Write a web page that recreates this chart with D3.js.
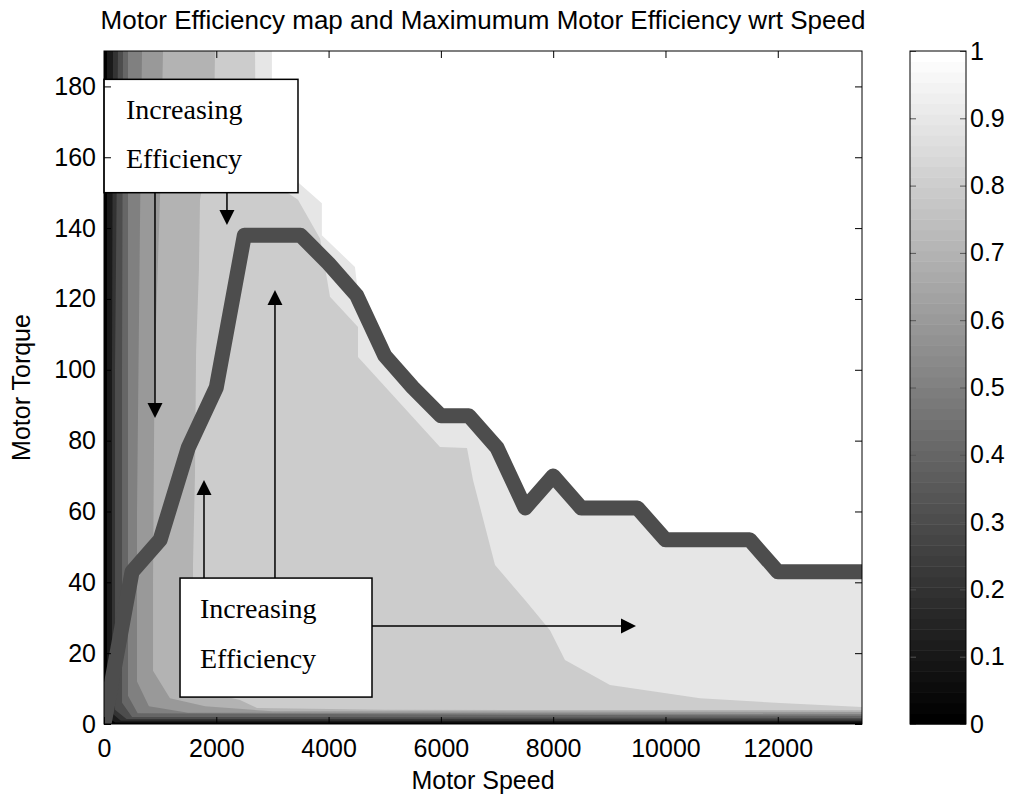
<!DOCTYPE html>
<html>
<head>
<meta charset="utf-8">
<script src="https://d3js.org/d3.v7.min.js"></script>
<style>
  body { margin: 0; background: #fff; }
  text { font-family: "Liberation Sans", Arial, sans-serif; fill: #000; }
  .note { font-family: "Liberation Serif", "Times New Roman", serif; font-size: 28px; }
</style>
</head>
<body>
<svg id="chart" width="1013" height="795"></svg>
<script>
  // axis ticks
  const speedTicks = [0, 2000, 4000, 6000, 8000, 10000, 12000];
  const torqueTicks = [0, 20, 40, 60, 80, 100, 120, 140, 160, 180];
  const cbarTicks = [0, 0.1, 0.2, 0.3, 0.4, 0.5, 0.6, 0.7, 0.8, 0.9, 1];

  // maximum efficiency curve (speed, torque)
  const maxSpeed = [0, 500, 1000, 1500, 2000, 2500, 3000, 3500, 4000, 4500, 5000, 5500, 6000, 6500,
    7000, 7500, 8000, 8500, 9000, 9500, 10000, 10500, 11000, 11500, 12000, 12500, 13000, 13500];
  const maxTorque = [0, 43, 52, 78, 95, 138, 138, 138, 130, 121, 104, 95, 87, 87,
    78, 61, 70, 61, 61, 61, 52, 52, 52, 52, 43, 43, 43, 43];

  // efficiency contour edges, [speed, torque]; region below/left of an edge has efficiency < level
  const edge100 = [[2990, 190], [2990, 156], [3450, 153], [3880, 147], [3880, 138], [4470, 129], [4520, 122],
    [5000, 105.5], [6000, 88.5], [6500, 88.5], [7000, 79.5], [7500, 62.5], [8000, 71.5], [8500, 62.5],
    [9500, 62.5], [10000, 53.5], [11500, 53.5], [12000, 44.5], [13500, 44.5]];
  const edge90 = [[2690, 190], [2705, 156], [3455, 148], [3850, 137], [4025, 120.6], [4524, 112.1],
    [4524, 103.6], [5984, 78.2], [6465, 77.9], [6572, 68.9], [6964, 44.9], [7498, 35], [7943, 26.5],
    [8210, 18.1], [9012, 11], [10615, 7.3], [12040, 5.9], [13500, 4.8]];
  const edge80 = [[1977, 190], [1960, 170], [1710, 148], [1690, 128], [1640, 105], [1620, 70], [1585, 45],
    [1585, 15.2], [1888, 8.75], [2422, 6.8], [2725, 4.5], [5000, 4.0], [13500, 3.9]];
  const edge70 = [[1051, 190], [1000, 150], [900, 100], [873, 40], [873, 15], [1175, 7.3], [1800, 5],
    [3000, 3.6], [13500, 3.4]];
  const edge60 = [[677, 190], [640, 140], [588, 60], [588, 12], [800, 5], [1500, 3.2], [13500, 2.8]];
  const edge50 = [[427, 190], [427, 60], [427, 8], [600, 3], [13500, 2.3]];
  const edge40 = [[338, 190], [321, 100], [321, 6], [500, 2], [13500, 1.7]];
  const edge30 = [[249, 190], [196, 100], [196, 4], [400, 1.4], [13500, 1.27]];
  const edge20 = [[160, 190], [142, 100], [142, 3], [300, 0.9], [13500, 0.85]];
  const edge10 = [[53, 190], [53, 100], [53, 2], [200, 0.45], [13500, 0.42]];
  const edgeLevels = [1.0, 0.9, 0.8, 0.7, 0.6, 0.5, 0.4, 0.3, 0.2, 0.1];
  const edges = [edge100, edge90, edge80, edge70, edge60, edge50, edge40, edge30, edge20, edge10];

  const svg = d3.select("#chart");
  const margin = { top: 51, right: 151, bottom: 71, left: 104 };
  const W = 1013, H = 795;
  const plotW = W - margin.left - margin.right;
  const plotH = H - margin.top - margin.bottom;

  const x = d3.scaleLinear().domain([0, 13500]).range([0, plotW]);
  const y = d3.scaleLinear().domain([0, 190]).range([plotH, 0]);
  const gray = d3.scaleLinear().domain([0, 1]).range(["#000", "#fff"]);

  svg.append("defs").append("clipPath").attr("id", "plotClip")
    .append("rect").attr("width", plotW).attr("height", plotH);

  const g = svg.append("g").attr("transform", "translate(" + margin.left + "," + margin.top + ")");
  const area = g.append("g").attr("clip-path", "url(#plotClip)");

  area.append("rect").attr("width", plotW).attr("height", plotH).attr("fill", gray(1));

  const poly = d3.line().x(d => x(d[0])).y(d => y(d[1]));
  edges.forEach((e, i) => {
    const pts = [[0, 190]].concat(e, [[13500, 0], [0, 0]]);
    area.append("path")
      .attr("d", poly(pts) + "Z")
      .attr("fill", gray(edgeLevels[i] - 0.1));
  });

  // max efficiency line
  area.append("path")
    .datum(d3.zip(maxSpeed, maxTorque))
    .attr("d", d3.line().x(d => x(d[0])).y(d => y(d[1])))
    .attr("fill", "none")
    .attr("stroke", "#4d4d4d")
    .attr("stroke-width", 15)
    .attr("stroke-linejoin", "round");

  // annotations (data coords)
  const boxes = [
    { x0: 0, x1: 3455, t0: 182, t1: 150, tx: 22, b1: 40, b2: 89 },
    { x0: 1354, x1: 4773, t0: 41.2, t1: 7.6, tx: 20, b1: 40, b2: 90 }
  ];
  const arrows = [
    [[908, 150], [908, 86.4]],
    [[2190, 150], [2190, 140.9]],
    [[1781, 41.2], [1781, 68.9]],
    [[3045, 41.2], [3045, 122.5]],
    [[4773, 27.7], [9475, 27.7]]
  ];

  arrows.forEach(a => {
    const x1 = x(a[0][0]), y1 = y(a[0][1]), x2 = x(a[1][0]), y2 = y(a[1][1]);
    const ang = Math.atan2(y2 - y1, x2 - x1);
    const len = 15, hw = 7.5;
    const bx = x2 - len * Math.cos(ang), by = y2 - len * Math.sin(ang);
    g.append("line").attr("x1", x1).attr("y1", y1).attr("x2", bx).attr("y2", by)
      .attr("stroke", "#000").attr("stroke-width", 1.5);
    const px = -Math.sin(ang) * hw, py = Math.cos(ang) * hw;
    g.append("path")
      .attr("d", `M${x2},${y2}L${bx + px},${by + py}L${bx - px},${by - py}Z`)
      .attr("fill", "#000");
  });

  boxes.forEach(b => {
    const bx = x(b.x0), by = y(b.t0);
    g.append("rect")
      .attr("x", bx).attr("y", by)
      .attr("width", x(b.x1) - x(b.x0)).attr("height", y(b.t1) - y(b.t0))
      .attr("fill", "#fff").attr("stroke", "#000").attr("stroke-width", 1.5);
    g.append("text").attr("class", "note").attr("x", bx + b.tx).attr("y", by + b.b1).text("Increasing");
    g.append("text").attr("class", "note").attr("x", bx + b.tx).attr("y", by + b.b2).text("Efficiency");
  });

  // axes
  const fs = "25px";
  g.append("g").attr("transform", "translate(0," + plotH + ")")
    .call(d3.axisBottom(x).tickValues(speedTicks).tickFormat(d3.format("d"))
      .tickSizeInner(-7).tickSizeOuter(0).tickPadding(15));
  g.append("g")
    .call(d3.axisLeft(y).tickValues(torqueTicks).tickFormat(d3.format("d"))
      .tickSizeInner(-7).tickSizeOuter(0).tickPadding(8));
  g.append("g")
    .call(d3.axisTop(x).tickValues(speedTicks).tickSizeInner(-7).tickSizeOuter(0).tickFormat(""));
  g.append("g").attr("transform", "translate(" + plotW + ",0)")
    .call(d3.axisRight(y).tickValues(torqueTicks).tickSizeInner(-7).tickSizeOuter(0).tickFormat(""));
  g.selectAll(".domain").remove();
  g.selectAll(".tick line").attr("stroke", "#000");
  g.selectAll(".tick text").style("font-size", fs).style("font-family", "Liberation Sans, Arial, sans-serif").attr("fill", "#000");

  g.append("rect").attr("width", plotW).attr("height", plotH)
    .attr("fill", "none").attr("stroke", "#000").attr("stroke-width", 1);

  // titles
  svg.append("text").attr("x", margin.left + plotW / 2).attr("y", 29)
    .attr("text-anchor", "middle").style("font-size", "26px")
    .text("Motor Efficiency map and Maximumum Motor Efficiency wrt Speed");
  svg.append("text").attr("x", margin.left + plotW / 2).attr("y", 789)
    .attr("text-anchor", "middle").style("font-size", fs).text("Motor Speed");
  svg.append("text").attr("transform", "translate(30," + (margin.top + plotH / 2) + ") rotate(-90)")
    .attr("text-anchor", "middle").style("font-size", fs).text("Motor Torque");

  // colorbar
  const cbX = 910, cbW = 56;
  const cy = d3.scaleLinear().domain([0, 1]).range([margin.top + plotH, margin.top]);
  const cb = svg.append("g");
  const steps = d3.range(64);
  cb.selectAll("rect.step").data(steps).join("rect")
    .attr("class", "step")
    .attr("x", cbX).attr("width", cbW)
    .attr("y", d => cy((d + 1) / 64))
    .attr("height", d => cy(d / 64) - cy((d + 1) / 64) + 0.5)
    .attr("fill", d => gray(d / 63));
  cb.append("g").attr("transform", "translate(" + (cbX + cbW) + ",0)")
    .call(d3.axisRight(cy).tickValues(cbarTicks).tickFormat(d => String(+d.toFixed(1)))
      .tickSizeInner(-6).tickSizeOuter(0).tickPadding(4))
    .call(a => a.select(".domain").remove())
    .call(a => a.selectAll(".tick text").style("font-size", fs).attr("fill", "#000"))
    .call(a => a.selectAll(".tick line").attr("stroke", "#555"));
  cb.append("g").attr("transform", "translate(" + cbX + ",0)")
    .call(d3.axisLeft(cy).tickValues(cbarTicks).tickSizeInner(-6).tickSizeOuter(0).tickFormat(""))
    .call(a => a.select(".domain").remove())
    .call(a => a.selectAll(".tick line").attr("stroke", "#555"));
  cb.append("rect").attr("x", cbX).attr("y", margin.top).attr("width", cbW).attr("height", plotH)
    .attr("fill", "none").attr("stroke", "#000");
</script>
</body>
</html>
